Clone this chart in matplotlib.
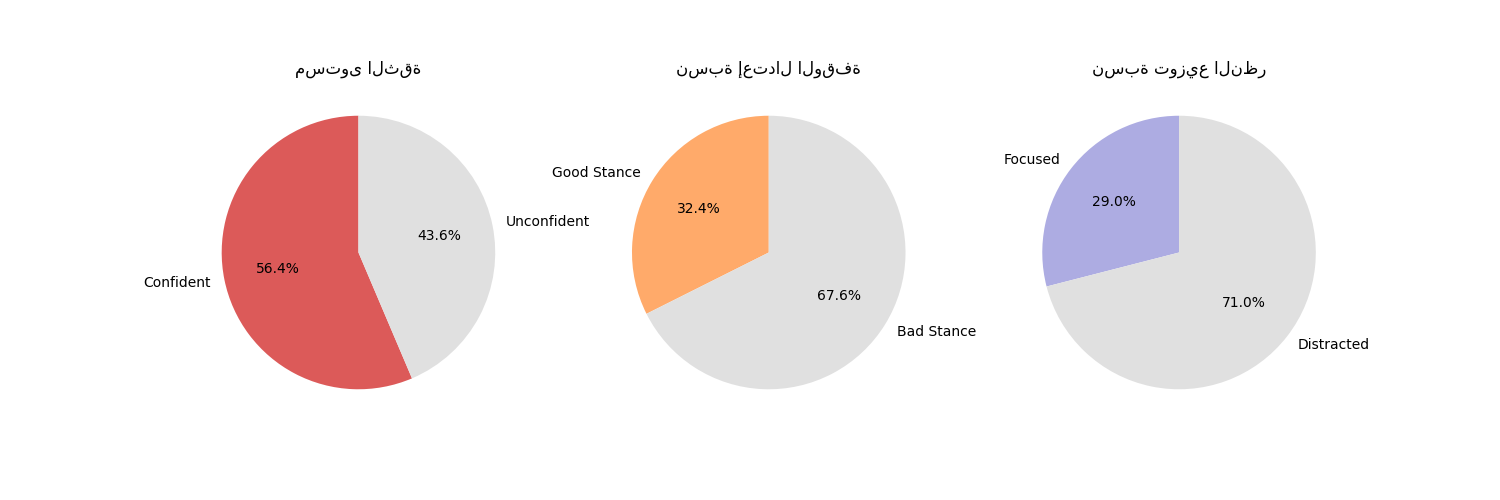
import matplotlib
matplotlib.use('Agg')
import matplotlib.pyplot as plt

titles = ['مستوى الثقة', 'نسبة إعتدال الوقفة', 'نسبة توزيع النظر']

conf_labels = ['Confident', 'Unconfident']
conf_values = [56.4, 43.6]

stance_labels = ['Good Stance', 'Bad Stance']
stance_values = [32.4, 67.6]

gaze_labels = ['Focused', 'Distracted']
gaze_values = [29.0, 71.0]

colors = [['#DC5A59', '#E0E0E0'], ['#FFAA6A', '#E0E0E0'], ['#ADACE2', '#E0E0E0']]

fig, axes = plt.subplots(1, 3, figsize=(15, 5))
data = [(conf_labels, conf_values), (stance_labels, stance_values), (gaze_labels, gaze_values)]

for ax, (lbls, vals), cols, t in zip(axes, data, colors, titles):
    ax.pie(vals, labels=lbls, colors=cols, autopct='%1.1f%%', startangle=90)
    ax.set_title(t)

plt.savefig('out.png', dpi=100)
